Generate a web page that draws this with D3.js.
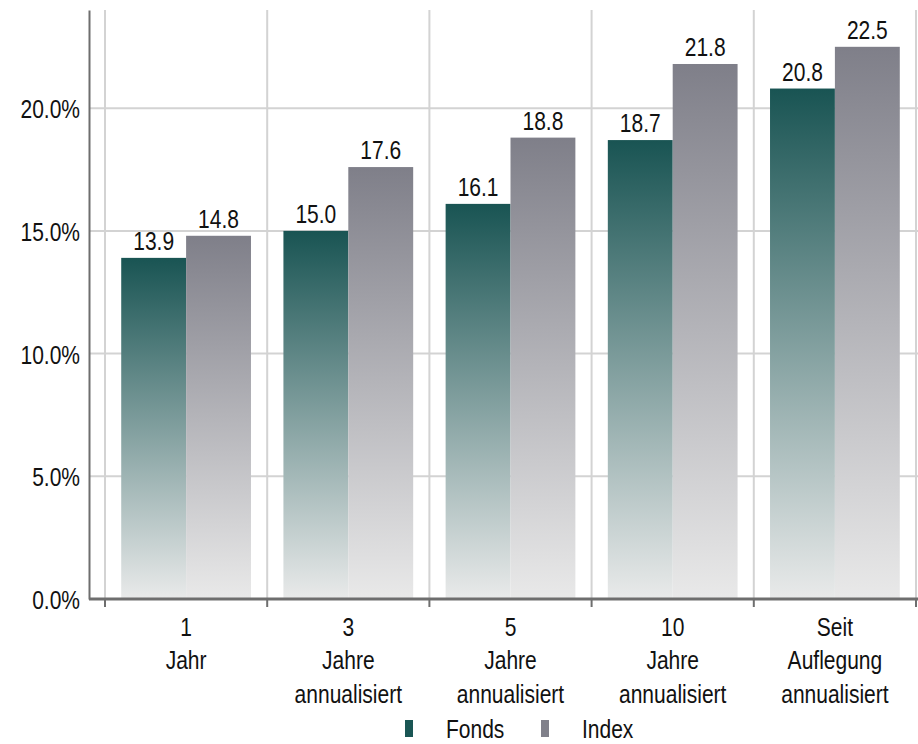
<!DOCTYPE html>
<html>
<head>
<meta charset="utf-8">
<script src="https://d3js.org/d3.v7.min.js"></script>
<style>
  body { margin: 0; background: #fff; }
  text { font-family: "Liberation Sans", Arial, sans-serif; fill: #111; font-size: 21px; }
</style>
</head>
<body>
<div id="chart"></div>
<script>
var categories = [["1", "Jahr"], ["3", "Jahre", "annualisiert"], ["5", "Jahre", "annualisiert"], ["10", "Jahre", "annualisiert"], ["Seit", "Auflegung", "annualisiert"]];
var series = ["Fonds", "Index"];
var fonds = [13.9, 15.0, 16.1, 18.7, 20.8];
var index = [14.8, 17.6, 18.8, 21.8, 22.5];
var yTicks = [0, 5, 10, 15, 20];

var W = 918, H = 744;
var plotLeft = 105, plotRight = 916, plotTop = 10, plotBottom = 599;
var axisX = 89;
var stretch = 1.25; // text in the reference is drawn taller than wide

var svg = d3.select("#chart").append("svg")
  .attr("width", W).attr("height", H);

var defs = svg.append("defs");
function grad(id, c0, c1) {
  var g = defs.append("linearGradient").attr("id", id)
    .attr("x1", "0%").attr("y1", "0%").attr("x2", "0%").attr("y2", "100%");
  g.append("stop").attr("offset", "0%").attr("stop-color", c0);
  g.append("stop").attr("offset", "100%").attr("stop-color", c1);
}
grad("g-fonds", "#195453", "#e9eaea");
grad("g-index", "#7f7f89", "#e9e9e9");
var colors = {Fonds: "url(#g-fonds)", Index: "url(#g-index)"};
var legendColors = {Fonds: "#1a5654", Index: "#80808a"};

function tr(px, py) { return "translate(" + px + "," + py + ") scale(1," + stretch + ")"; }

var keys = categories.map(function(c) { return c.join(" "); });
var x = d3.scaleBand().domain(keys).range([plotLeft, plotRight]).padding(0);
var xs = d3.scaleBand().domain(series).range([0, x.bandwidth()]).paddingInner(0).paddingOuter(0.25);
var y = d3.scaleLinear().domain([0, 24]).range([plotBottom, plotTop]);

// horizontal grid
svg.append("g").selectAll("line").data(yTicks.slice(1)).enter().append("line")
  .attr("x1", axisX).attr("x2", W)
  .attr("y1", function(d) { return y(d); }).attr("y2", function(d) { return y(d); })
  .attr("stroke", "#d3d3d3").attr("stroke-width", 2);

// vertical grid at band edges
var edges = keys.map(function(k) { return x(k); }).concat([plotRight]);
svg.append("g").selectAll("line").data(edges).enter().append("line")
  .attr("x1", function(d) { return d; }).attr("x2", function(d) { return d; })
  .attr("y1", plotTop).attr("y2", plotBottom)
  .attr("stroke", "#d3d3d3").attr("stroke-width", 2);

// bars
var rows = keys.map(function(k, i) { return {key: k, vals: [{s: "Fonds", v: fonds[i]}, {s: "Index", v: index[i]}]}; });
var grp = svg.append("g").selectAll("g").data(rows).enter().append("g")
  .attr("transform", function(d) { return "translate(" + x(d.key) + ",0)"; });
grp.selectAll("rect").data(function(d) { return d.vals; }).enter().append("rect")
  .attr("x", function(d) { return xs(d.s); })
  .attr("width", xs.bandwidth())
  .attr("y", function(d) { return y(d.v); })
  .attr("height", function(d) { return y(0) - y(d.v); })
  .attr("fill", function(d) { return colors[d.s]; });
grp.selectAll("text").data(function(d) { return d.vals; }).enter().append("text")
  .attr("transform", function(d) { return tr(xs(d.s) + xs.bandwidth() / 2, y(d.v) - 8); })
  .attr("text-anchor", "middle")
  .text(function(d) { return d.v.toFixed(1); });

// y axis
var yAxis = d3.axisLeft(y).tickValues(yTicks).tickSize(0).tickFormat("");
var ya = svg.append("g").attr("transform", "translate(" + axisX + ",0)").call(yAxis);
ya.select(".domain").attr("stroke", "#6e6e6e").attr("stroke-width", 2);
svg.append("g").selectAll("text").data(yTicks).enter().append("text")
  .attr("transform", function(d) { return tr(80, y(d) + 10); })
  .attr("text-anchor", "end")
  .text(function(d) { return d3.format(".1f")(d) + "%"; });

// x axis baseline and ticks
svg.append("line").attr("x1", axisX).attr("x2", W).attr("y1", plotBottom).attr("y2", plotBottom)
  .attr("stroke", "#6e6e6e").attr("stroke-width", 3);
svg.append("g").selectAll("line").data(edges).enter().append("line")
  .attr("x1", function(d) { return d; }).attr("x2", function(d) { return d; })
  .attr("y1", plotBottom).attr("y2", plotBottom + 8)
  .attr("stroke", "#6e6e6e").attr("stroke-width", 2);

// category labels
var cl = svg.append("g").selectAll("text").data(categories).enter().append("text")
  .attr("text-anchor", "middle")
  .attr("transform", function(d, i) { return tr(x(keys[i]) + x.bandwidth() / 2, 636); });
cl.selectAll("tspan").data(function(d) { return d; }).enter().append("tspan")
  .attr("x", 0)
  .attr("dy", function(d, i) { return i === 0 ? 0 : 33.5 / stretch; })
  .text(function(d) { return d; });

// legend
var legendX = [405, 541];
var lg = svg.append("g").selectAll("g").data(series).enter().append("g")
  .attr("transform", function(d, i) { return "translate(" + legendX[i] + ",720)"; });
lg.append("rect").attr("width", 8).attr("height", 17)
  .attr("fill", function(d) { return legendColors[d]; });
lg.append("text").attr("transform", tr(41, 18))
  .text(function(d) { return d; });
</script>
</body>
</html>
